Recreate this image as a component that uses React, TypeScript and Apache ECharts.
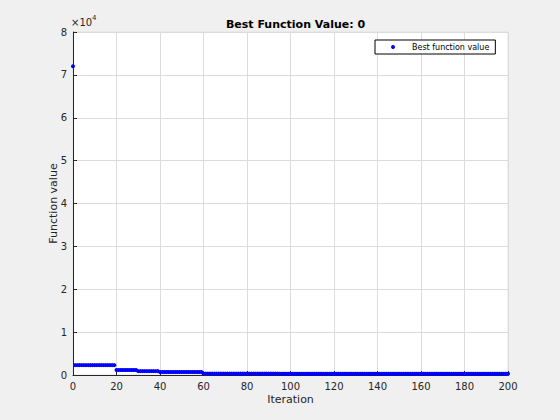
import React, { useEffect, useRef } from "react";
import * as echarts from "echarts";

const iterations: number[] = Array.from({ length: 201 }, (_, i) => i);

// Best function value per iteration, iterations 0..200
const bestValues: number[] = [
  72000,
  2300, 2300, 2300, 2300, 2300, 2300, 2300, 2300, 2300, 2300,
  2300, 2300, 2300, 2300, 2300, 2300, 2300, 2300, 2300,
  1150, 1150, 1150, 1150, 1150, 1150, 1150, 1150, 1150, 1150,
  900, 900, 900, 900, 900, 900, 900, 900, 900, 900,
  700, 700, 700, 700, 700, 700, 700, 700, 700, 700,
  700, 700, 700, 700, 700, 700, 700, 700, 700, 700,
  320, 320, 320, 320, 320, 320, 320, 320, 320, 320,
  320, 320, 320, 320, 320, 320, 320, 320, 320, 320,
  320, 320, 320, 320, 320, 320, 320, 320, 320, 320,
  320, 320, 320, 320, 320,
  280, 280, 280, 280, 280, 280, 280, 280, 280, 280,
  280, 280, 280, 280, 280, 280, 280, 280, 280, 280,
  280, 280, 280, 280, 280, 280, 280, 280, 280, 280,
  280, 280, 280, 280, 280, 280, 280, 280, 280, 280,
  280, 280, 280, 280, 280, 280, 280, 280, 280, 280,
  280, 280, 280, 280, 280, 280, 280, 280, 280, 280,
  280, 280, 280, 280, 280, 280, 280, 280, 280, 280,
  280, 280, 280, 280, 280, 280, 280, 280, 280, 280,
  280, 280, 280, 280, 280, 280, 280, 280, 280, 280,
  280, 280, 280, 280, 280, 280, 280, 280, 280, 280,
  280, 280, 280, 280, 280, 280,
];

const xTicks: number[] = [0, 20, 40, 60, 80, 100, 120, 140, 160, 180, 200];
const yTickLabels: string[] = ["0", "1", "2", "3", "4", "5", "6", "7", "8"];

const FONT = "DejaVu Sans";
const AXIS_COLOR = "#262626";

export default function App() {
  const ref = useRef<HTMLDivElement>(null);
  useEffect(() => {
    if (!ref.current) return;
    const chart = echarts.init(ref.current, undefined, { renderer: "svg" });
    const data = iterations.map((it, i) => [it, bestValues[i]]);
    chart.setOption({
      animation: false,
      backgroundColor: "#f0f0f0",
      textStyle: { fontFamily: FONT },
      title: {
        text: "Best Function Value: 0",
        left: 290.5,
        textAlign: "center",
        top: 14,
        textStyle: { fontSize: 11, fontWeight: "bold", color: "#000", fontFamily: FONT },
      },
      legend: {
        data: ["Best function value"],
        left: 375,
        top: 40,
        orient: "vertical",
        padding: [3, 6, 3, 16],
        backgroundColor: "#ffffff",
        borderColor: "#000000",
        borderWidth: 1,
        borderRadius: 0,
        icon: "circle",
        itemWidth: 4,
        itemHeight: 4,
        textStyle: { fontSize: 8, color: "#000", fontFamily: FONT, padding: [0, 0, 0, 12] },
      },
      grid: { left: 73, right: 52, top: 32, bottom: 45, show: true, borderColor: "#e3e3e3", borderWidth: 1, backgroundColor: "#ffffff" },
      graphic: [
        {
          type: "text",
          left: 71,
          top: 14,
          style: {
            text: "{a|×10}{b|4}",
            rich: {
              a: { fontSize: 10, fill: AXIS_COLOR, fontFamily: FONT, verticalAlign: "bottom" },
              b: { fontSize: 7, fill: AXIS_COLOR, fontFamily: FONT, verticalAlign: "top", padding: [0, 0, 6, 0] },
            },
          },
        },
      ],
      xAxis: {
        type: "value",
        min: xTicks[0],
        max: xTicks[xTicks.length - 1],
        interval: 20,
        name: "Iteration",
        nameLocation: "middle",
        nameGap: 19,
        nameMoveOverlap: false,
        nameTextStyle: { fontSize: 11, color: AXIS_COLOR, fontFamily: FONT },
        axisLine: { onZero: false, lineStyle: { color: AXIS_COLOR, width: 1 } },
        axisTick: { inside: true, length: 4, lineStyle: { color: AXIS_COLOR } },
        axisLabel: { fontSize: 10, color: AXIS_COLOR, margin: 6, fontFamily: FONT },
        splitLine: { show: true, lineStyle: { color: "#dcdcdc", width: 1 } },
      },
      yAxis: {
        type: "value",
        min: 0,
        max: 80000,
        interval: 10000,
        name: "Function value",
        nameLocation: "middle",
        nameGap: 14,
        nameMoveOverlap: false,
        nameRotate: 90,
        nameTextStyle: { fontSize: 11, color: AXIS_COLOR, fontFamily: FONT },
        axisLine: { show: true, onZero: false, lineStyle: { color: AXIS_COLOR, width: 1 } },
        axisTick: { show: true, inside: true, length: 4, lineStyle: { color: AXIS_COLOR } },
        axisLabel: {
          fontSize: 10,
          color: AXIS_COLOR,
          margin: 6,
          fontFamily: FONT,
          formatter: (v: number) => yTickLabels[Math.round(v / 10000)] ?? "",
        },
        splitLine: { show: true, lineStyle: { color: "#dcdcdc", width: 1 } },
      },
      series: [
        {
          name: "Best function value",
          type: "scatter",
          data,
          symbol: "circle",
          symbolSize: 4,
          itemStyle: { color: "#0000ff", opacity: 1 },
          clip: false,
          z: 5,
        },
      ],
    });
    return () => chart.dispose();
  }, []);
  return <div ref={ref} style={{ position: "absolute", left: 0, top: 0, width: 560, height: 420 }} />;
}
